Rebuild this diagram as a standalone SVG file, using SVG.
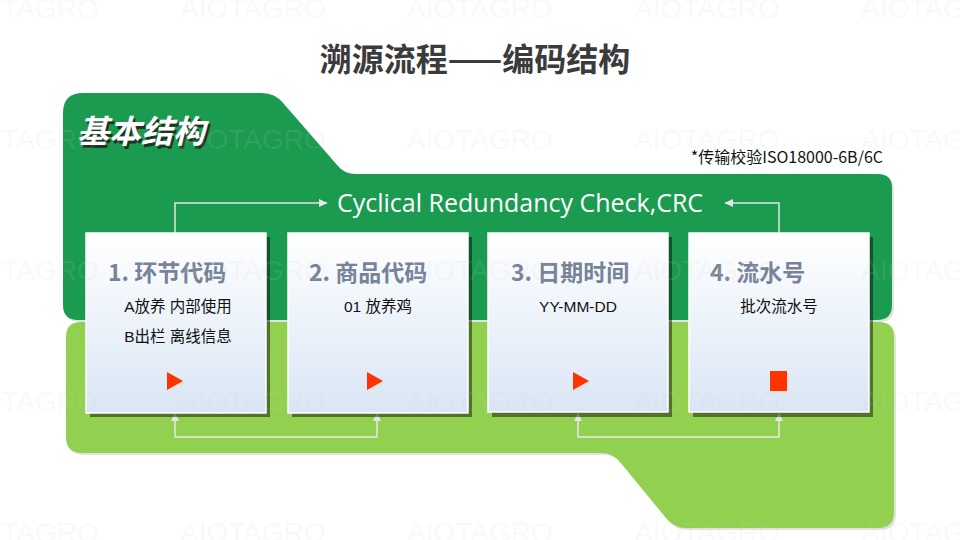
<svg xmlns="http://www.w3.org/2000/svg" width="960" height="540" viewBox="0 0 960 540">
<defs>
<linearGradient id="cardGrad" x1="0" y1="0" x2="0" y2="1">
<stop offset="0" stop-color="#ffffff"/>
<stop offset="1" stop-color="#dae6f5"/>
</linearGradient>
<marker id="arrow" markerUnits="userSpaceOnUse" markerWidth="9" markerHeight="9" refX="8" refY="4.5" orient="auto-start-reverse" viewBox="0 0 9 9">
<path d="M0,0.5 L8.5,4.5 L0,8.5 Z" fill="#e6e6e6"/>
</marker>
<style>
.wm { font-family: "Liberation Sans", Arial, sans-serif; font-size: 28px; fill: #d0d0d0; fill-opacity: 0.12; }
.card-bg { fill: url(#cardGrad); stroke: #ffffff; stroke-width: 1.5; }
.card-shadow { fill: #000000; fill-opacity: 0.45; }
.card-title { font-family: "Noto Sans CJK SC", sans-serif; font-size: 23px; font-weight: bold; fill: #768399; }
.card-text { font-family: "Liberation Sans", "Noto Sans CJK SC", sans-serif; font-size: 15.5px; fill: #111111; text-anchor: middle; }
.icon { fill: #ff3300; }
.icon-shadow { fill: #e2e2e2; }
.conn { fill: none; stroke: #e6e6e6; stroke-width: 1.5; }
.shape-shadow { fill: #e2e2e2; }
</style>
</defs>
<rect width="960" height="540" fill="#ffffff"/>

<g id="title">
<text x="475" y="71" font-family="'Noto Sans CJK SC', sans-serif" font-size="32" font-weight="bold" fill="#3b3b3b" text-anchor="middle">溯源流程——编码结构</text>
</g>

<g id="background-shapes">
<path class="shape-shadow" transform="translate(2,2)" d="M63,113 Q63,93 83,93 L262,93 Q275,93 283,103 L337,165 Q344,174 356,174 L878,174 Q892,174 892,188 L892,305 Q892,320 877,320 L78,320 Q63,320 63,305 Z"/>
<path class="shape-shadow" transform="translate(2,2)" d="M66,337 Q66,322 81,322 L879,322 Q894,322 894,337 L894,512 Q894,528 878,528 L686,528 Q674,528 666,518 L620,462 Q613,453 601,453 L82,453 Q66,453 66,437 Z"/>
<path id="dark-green" fill="#1b9b4f" d="M63,113 Q63,93 83,93 L262,93 Q275,93 283,103 L337,165 Q344,174 356,174 L878,174 Q892,174 892,188 L892,305 Q892,320 877,320 L78,320 Q63,320 63,305 Z"/>
<path id="light-green" fill="#92d050" d="M66,337 Q66,322 81,322 L879,322 Q894,322 894,337 L894,512 Q894,528 878,528 L686,528 Q674,528 666,518 L620,462 Q613,453 601,453 L82,453 Q66,453 66,437 Z"/>
<text x="79" y="146" font-family="'Noto Sans CJK SC', sans-serif" font-size="32" font-weight="bold" font-style="italic" fill="#1e3524">基本结构</text>
<text x="77" y="143" font-family="'Noto Sans CJK SC', sans-serif" font-size="32" font-weight="bold" font-style="italic" fill="#ffffff">基本结构</text>
</g>

<g id="crc">
<text x="337" y="212" font-family="'Open Sans', sans-serif" font-size="25" fill="#ffffff">Cyclical Redundancy Check,CRC</text>
</g>
<g id="iso-note">
<text x="883" y="163" font-family="'Noto Sans CJK SC', sans-serif" font-size="16" fill="#111111" text-anchor="end">*传输校验ISO18000-6B/6C</text>
</g>

<g id="connectors">
<path class="conn" d="M175,233 L175,203 L327,203" marker-end="url(#arrow)"/>
<path class="conn" d="M779,233 L779,203 L725,203" marker-end="url(#arrow)"/>
<path class="conn" d="M175,413 L175,437 L377,437 L377,413" marker-start="url(#arrow)" marker-end="url(#arrow)"/>
<path class="conn" d="M578,413 L578,437 L779,437 L779,413" marker-start="url(#arrow)" marker-end="url(#arrow)"/>
</g>

<g id="card1">
<rect class="card-shadow" x="90" y="237" width="180" height="180"/>
<rect class="card-bg" x="86" y="233" width="180" height="180"/>
<text class="card-title" x="108" y="281">1. 环节代码</text>
<text class="card-text" x="178" y="312">A放养 内部使用</text>
<text class="card-text" x="178" y="342">B出栏 离线信息</text>
<path class="icon-shadow" d="M169,374 L185,383 L169,392 Z"/>
<path class="icon" d="M167,372 L183,381 L167,390 Z"/>
</g>

<g id="card2">
<rect class="card-shadow" x="292" y="237" width="180" height="180"/>
<rect class="card-bg" x="288" y="233" width="180" height="180"/>
<text class="card-title" x="309" y="281">2. 商品代码</text>
<text class="card-text" x="378" y="312">01 放养鸡</text>
<path class="icon-shadow" d="M369,374 L385,383 L369,392 Z"/>
<path class="icon" d="M367,372 L383,381 L367,390 Z"/>
</g>

<g id="card3">
<rect class="card-shadow" x="492" y="237" width="180" height="180"/>
<rect class="card-bg" x="488" y="233" width="180" height="179"/>
<text class="card-title" x="511" y="281">3. 日期时间</text>
<text class="card-text" x="578" y="312">YY-MM-DD</text>
<path class="icon-shadow" d="M575,374 L591,383 L575,392 Z"/>
<path class="icon" d="M573,372 L589,381 L573,390 Z"/>
</g>

<g id="card4">
<rect class="card-shadow" x="693" y="237" width="180" height="180"/>
<rect class="card-bg" x="689" y="233" width="180" height="179"/>
<text class="card-title" x="710" y="281">4. 流水号</text>
<text class="card-text" x="779" y="312">批次流水号</text>
<rect class="icon-shadow" x="772" y="373" width="17" height="20"/>
<rect class="icon" x="770" y="371" width="17" height="20"/>
</g>

<g id="watermark">
<text class="wm" x="-47" y="18">AIOTAGRO</text>
<text class="wm" x="180" y="18">AIOTAGRO</text>
<text class="wm" x="407" y="18">AIOTAGRO</text>
<text class="wm" x="634" y="18">AIOTAGRO</text>
<text class="wm" x="861" y="18">AIOTAGRO</text>
<text class="wm" x="-47" y="149">AIOTAGRO</text>
<text class="wm" x="180" y="149">AIOTAGRO</text>
<text class="wm" x="407" y="149">AIOTAGRO</text>
<text class="wm" x="634" y="149">AIOTAGRO</text>
<text class="wm" x="861" y="149">AIOTAGRO</text>
<text class="wm" x="-47" y="280">AIOTAGRO</text>
<text class="wm" x="180" y="280">AIOTAGRO</text>
<text class="wm" x="407" y="280">AIOTAGRO</text>
<text class="wm" x="634" y="280">AIOTAGRO</text>
<text class="wm" x="861" y="280">AIOTAGRO</text>
<text class="wm" x="-47" y="411">AIOTAGRO</text>
<text class="wm" x="180" y="411">AIOTAGRO</text>
<text class="wm" x="407" y="411">AIOTAGRO</text>
<text class="wm" x="634" y="411">AIOTAGRO</text>
<text class="wm" x="861" y="411">AIOTAGRO</text>
<text class="wm" x="-47" y="542">AIOTAGRO</text>
<text class="wm" x="180" y="542">AIOTAGRO</text>
<text class="wm" x="407" y="542">AIOTAGRO</text>
<text class="wm" x="634" y="542">AIOTAGRO</text>
<text class="wm" x="861" y="542">AIOTAGRO</text>
</g>
</svg>
